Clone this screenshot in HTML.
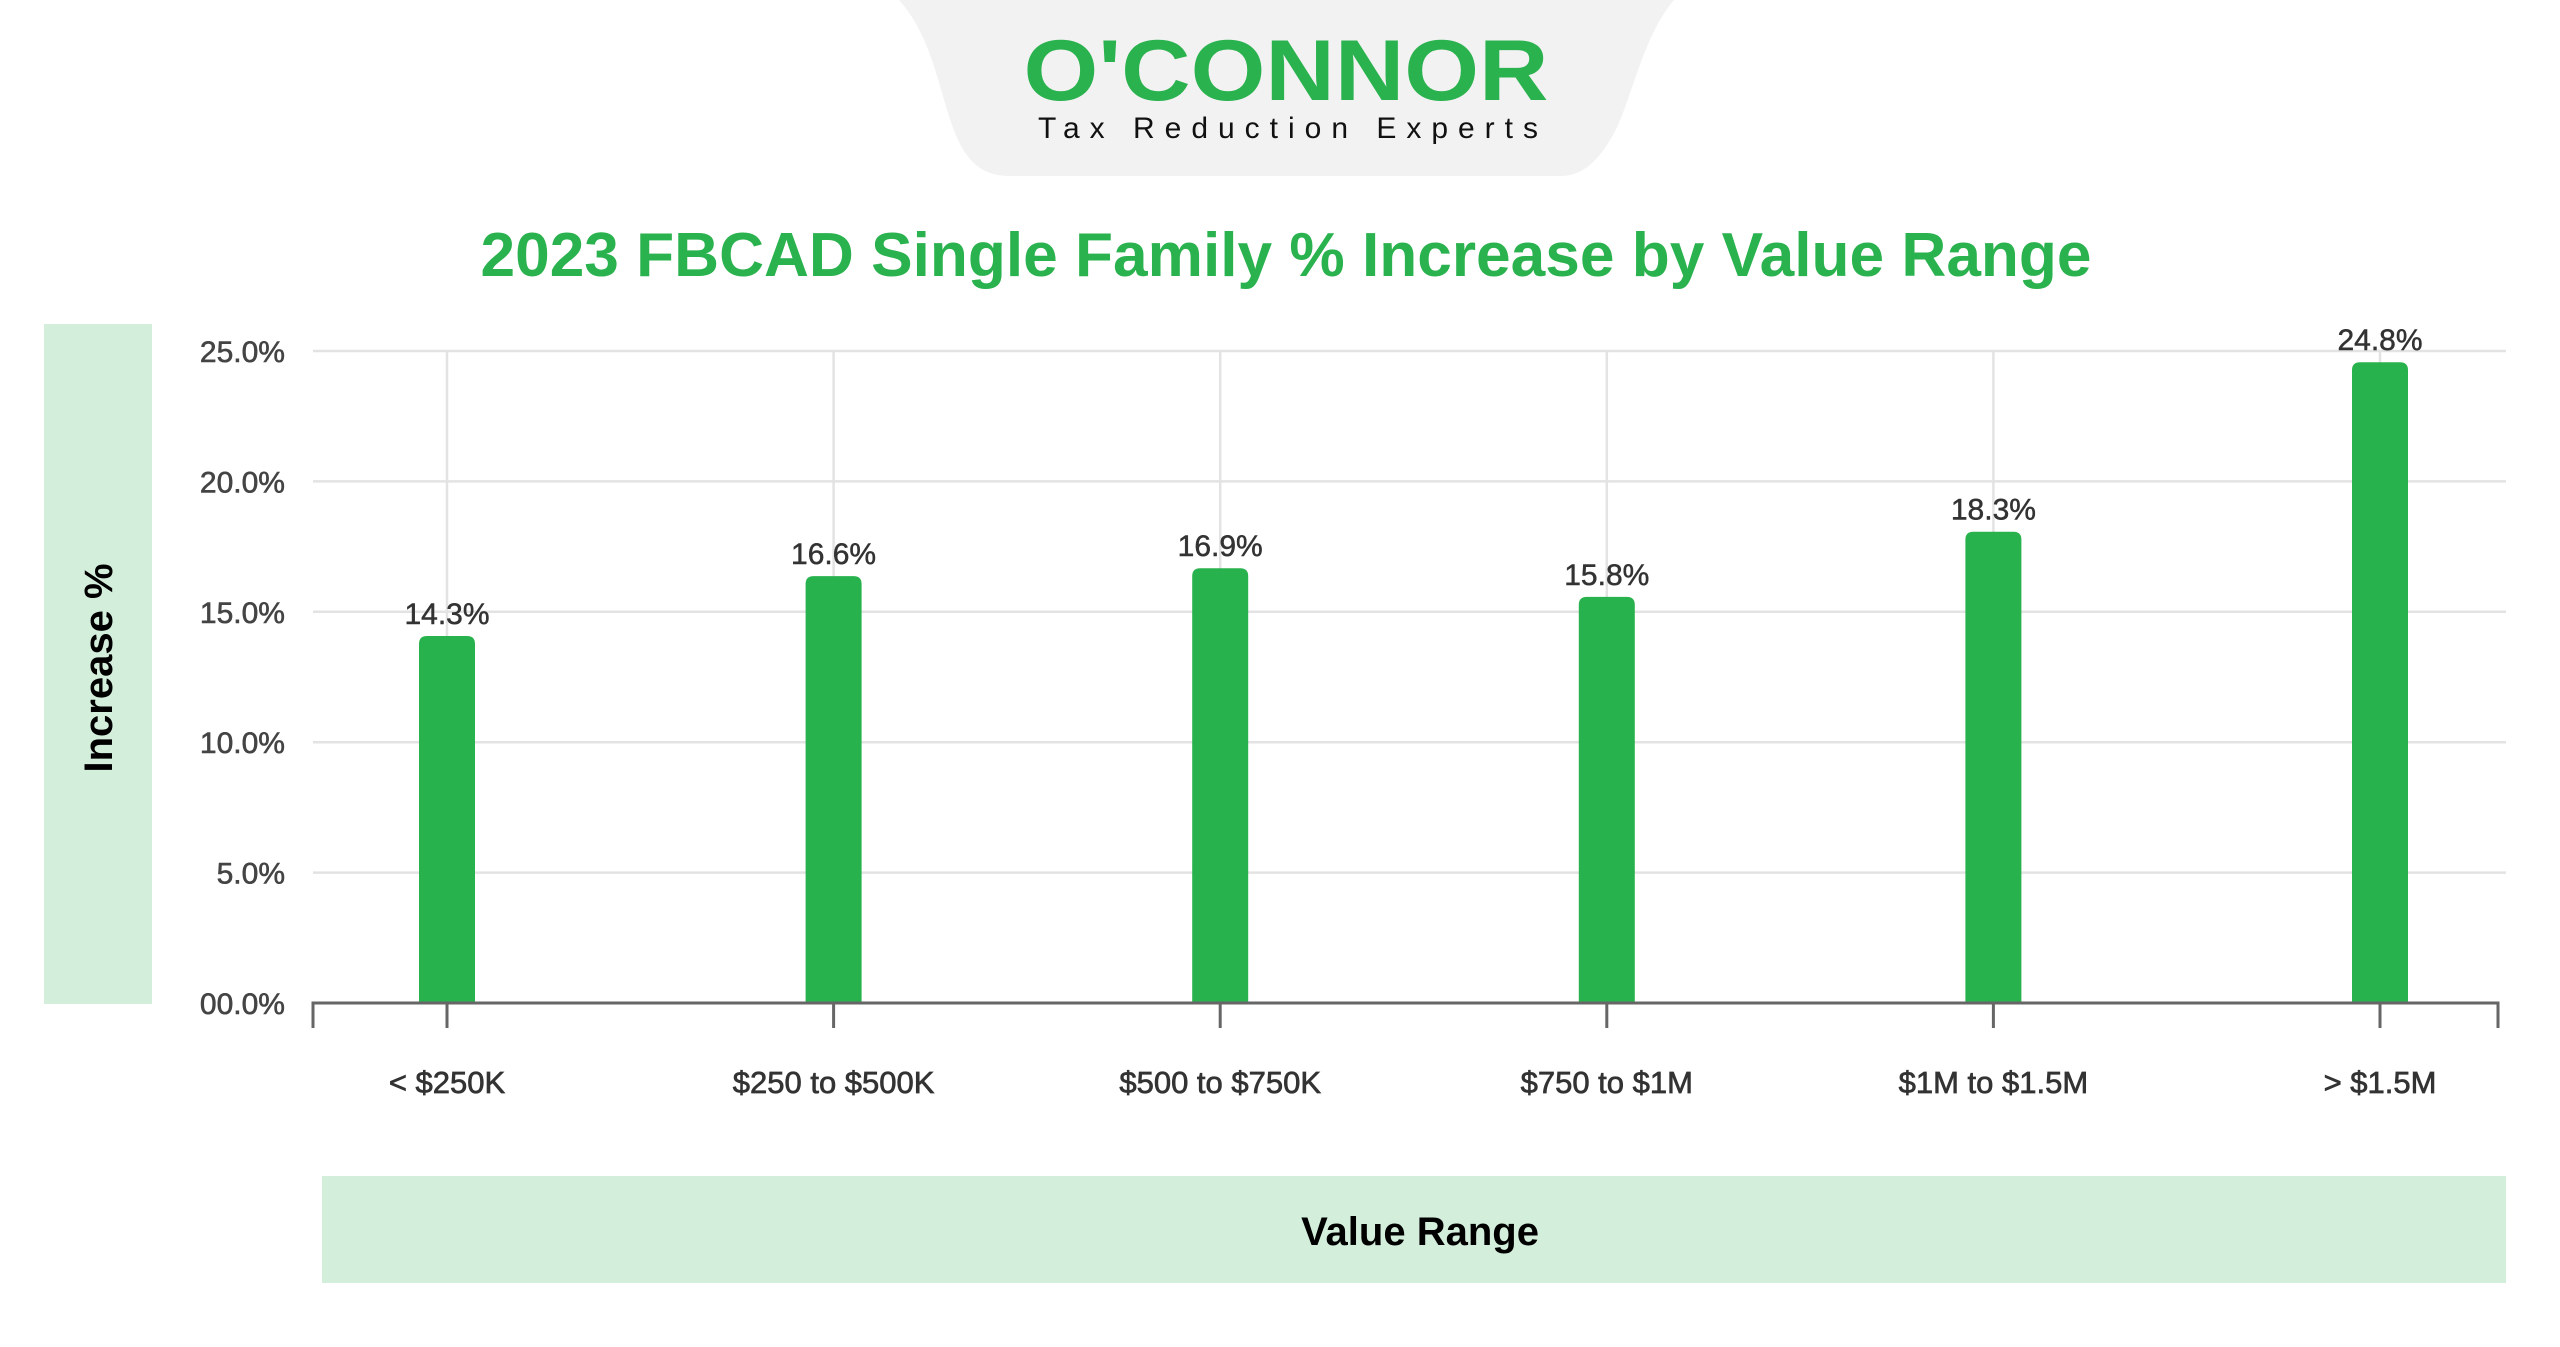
<!DOCTYPE html>
<html><head><meta charset="utf-8"><style>
html,body{margin:0;padding:0;background:#fff;}
svg{display:block;font-family:"Liberation Sans",Arial,sans-serif;}
</style></head><body>
<svg id="chart" width="2560" height="1347" viewBox="0 0 2560 1347" xmlns="http://www.w3.org/2000/svg">
  <path d="M899 0 L1674 0 C1640 40 1630 110 1610 140 C1595 165 1580 176 1560 176 L1010 176 C985 176 970 165 958 140 C940 100 935 40 899 0 Z" fill="#f2f2f2"/>
  <text x="1286" y="100" text-anchor="middle" font-size="86" font-weight="bold" fill="#2ab24e" textLength="525" lengthAdjust="spacingAndGlyphs">O'CONNOR</text>
  <text x="1288" y="138" text-anchor="middle" font-size="30" fill="#111" textLength="500" lengthAdjust="spacing">Tax Reduction Experts</text>
  <text x="1286" y="276" text-anchor="middle" font-size="62" font-weight="bold" fill="#2ab24e" textLength="1611" lengthAdjust="spacingAndGlyphs">2023 FBCAD Single Family % Increase by Value Range</text>
  <rect x="44" y="324" width="108" height="680" fill="#d4eedc"/>
  <text transform="translate(112,668) rotate(-90)" text-anchor="middle" font-size="40" font-weight="bold" fill="#000">Increase %</text>
  <rect x="322" y="1176" width="2184" height="107" fill="#d4eedc"/>
  <text x="1420" y="1245" text-anchor="middle" font-size="40" font-weight="bold" fill="#000">Value Range</text>
  <g id="grid"></g>
  <g id="bars"></g>
  <g id="axis"></g>
</svg>
<script>
const categories = ["< $250K","$250 to $500K","$500 to $750K","$750 to $1M","$1M to $1.5M","> $1.5M"];
const values = [14.3,16.6,16.9,15.8,18.3,24.8];
const valueLabels = ["14.3%","16.6%","16.9%","15.8%","18.3%","24.8%"];
const yTicks = [0,5,10,15,20,25];
const yTickLabels = ["00.0%","5.0%","10.0%","15.0%","20.0%","25.0%"];

const NS="http://www.w3.org/2000/svg";
const y0=1003, yTop=351, plotL=313, plotR=2506, axisR=2498;
function y(v){return y0-(v/25)*(y0-yTop);}
function x(i){return 447+i*386.6;}
function mk(tag,attrs,parent,txt){const e=document.createElementNS(NS,tag);for(const k in attrs)e.setAttribute(k,attrs[k]);if(txt!==undefined)e.textContent=txt;parent.appendChild(e);return e;}
const grid=document.getElementById('grid'),bars=document.getElementById('bars'),axis=document.getElementById('axis');
yTicks.forEach((t,i)=>{
  if(t>0){const l=mk('line',{x1:plotL,x2:plotR,y1:y(t),y2:y(t),stroke:'#e3e3e3','stroke-width':2.5},grid);
  
  }
  const tx=mk('text',{x:285,y:y(t)+11,'text-anchor':'end','font-size':30,fill:'#444',stroke:'#444','stroke-width':0.6},axis,yTickLabels[i]);
  
  
});
categories.forEach((c,i)=>{
  const gl=mk('line',{x1:x(i),x2:x(i),y1:yTop,y2:y0,stroke:'#e3e3e3','stroke-width':2.5},grid);
  
  
  const t=y(values[i])+6;
  const b=mk('path',{d:`M${x(i)-28} ${y0} V${t+8} Q${x(i)-28} ${t} ${x(i)-20} ${t} H${x(i)+20} Q${x(i)+28} ${t} ${x(i)+28} ${t+8} V${y0} Z`,fill:'#28b24d'},bars);
  
  
  const vl=mk('text',{x:x(i),y:t-12,'text-anchor':'middle','font-size':30,fill:'#333',stroke:'#333','stroke-width':0.5},bars,valueLabels[i]);
  
  
  const tk=mk('line',{x1:x(i),x2:x(i),y1:y0,y2:y0+25,stroke:'#666','stroke-width':3},axis);
  
  
  const cl=mk('text',{x:x(i),y:1093,'text-anchor':'middle','font-size':31,fill:'#333',stroke:'#333','stroke-width':0.7},axis,c);
  
  
});
const al=mk('path',{d:`M${plotL} ${y0+25} V${y0} H${axisR} V${y0+25}`,fill:'none',stroke:'#666','stroke-width':3},axis);


</script>
</body></html>
